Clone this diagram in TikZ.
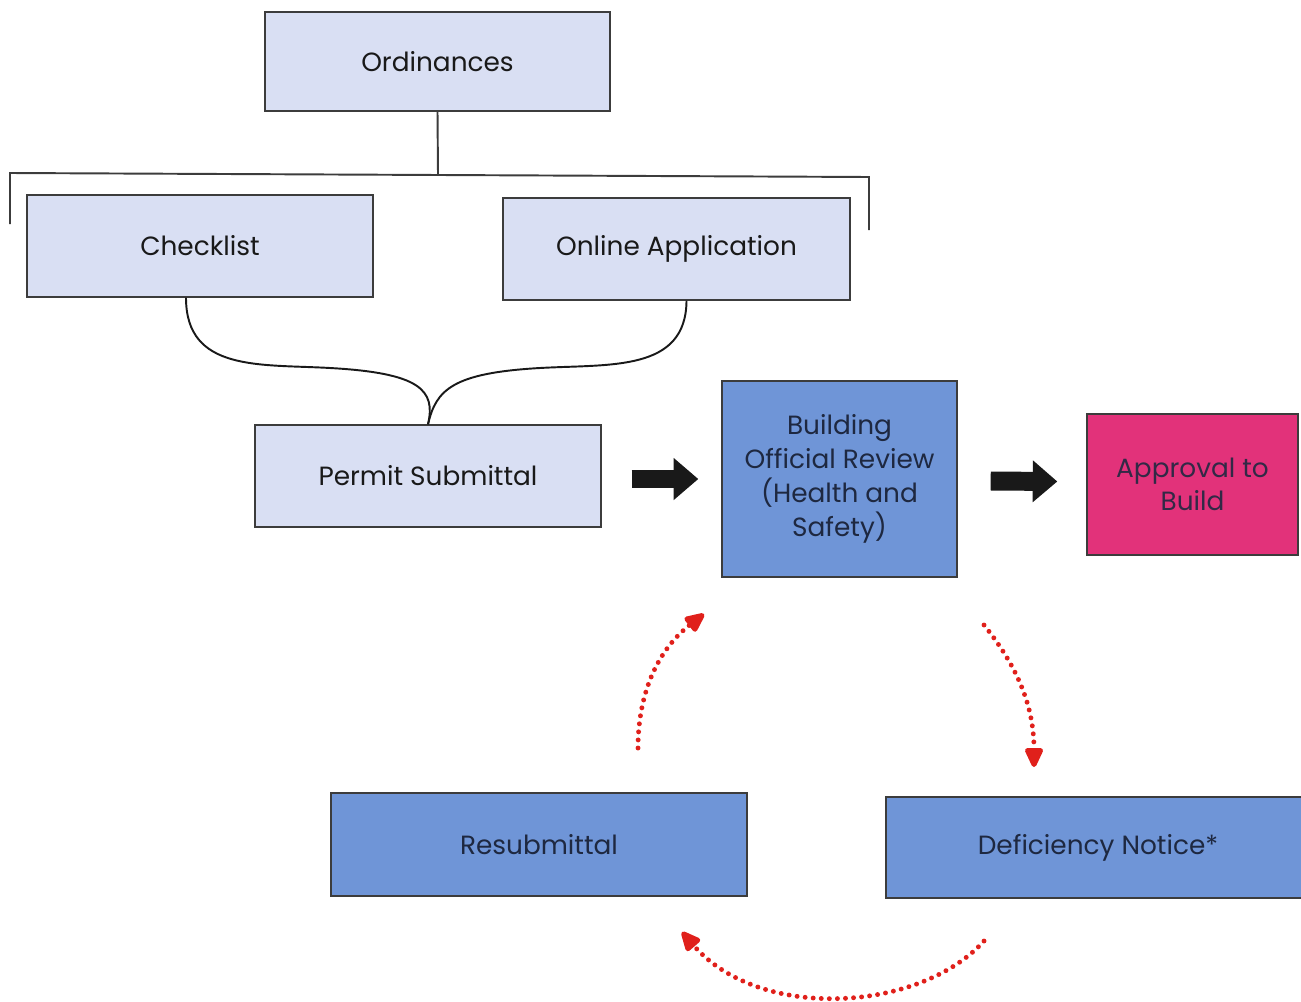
\documentclass[tikz,border=0pt]{standalone}
\usepackage{fontspec}
\setmainfont{Poppins}
\usetikzlibrary{arrows.meta,calc}
\definecolor{lightfill}{HTML}{D9DFF3}
\definecolor{bluefill}{HTML}{6F95D7}
\definecolor{pinkfill}{HTML}{E2327A}
\definecolor{boxline}{HTML}{3C3C3C}
\definecolor{navytext}{HTML}{1E2840}
\definecolor{loopred}{HTML}{E0201B}
\begin{document}
\begin{tikzpicture}[x=0.02cm, y=-0.02cm,
    every node/.style={font=\fontsize{15}{18}\selectfont},
    lightbox/.style={draw=boxline, line width=0.8pt, fill=lightfill, text=black!90, inner sep=0pt},
    bluebox/.style={draw=boxline, line width=0.8pt, fill=bluefill, text=navytext, inner sep=0pt, align=center},
    pinkbox/.style={draw=boxline, line width=0.8pt, fill=pinkfill, text=navytext!90!pinkfill, inner sep=0pt, align=center},
    blockarrow/.style={line width=10.8pt, black!90, -{Triangle[length=14pt, width=23pt]}},
    redloop/.style={loopred, line width=2.8pt, line cap=round, dash pattern=on 0pt off 4.6pt, -{Triangle[length=13pt, width=11pt, round]}}]
    \useasboundingbox (0,0) rectangle (1301,1001);

    % Draw the boxes
    \node[lightbox, minimum width=6.9cm, minimum height=1.98cm] (ordinances) at (437.5,61.5) {Ordinances};
    \node[lightbox, minimum width=6.92cm, minimum height=2.04cm] (checklist) at (200,246) {Checklist};
    \node[lightbox, minimum width=6.94cm, minimum height=2.04cm] (online) at (676.5,249) {Online Application};
    \node[lightbox, minimum width=6.92cm, minimum height=2.04cm] (permit) at (428,476) {Permit Submittal};
    \node[bluebox, minimum width=4.7cm, minimum height=3.92cm, font=\fontsize{15}{19.3}\selectfont] (review) at (839.5,479)
        {Building\\Official Review\\(Health and\\Safety)};
    \node[pinkbox, minimum width=4.22cm, minimum height=2.82cm, font=\fontsize{15}{19}\selectfont] (approval) at (1192.5,484.5)
        {Approval to\\Build};
    \node[bluebox, minimum width=8.32cm, minimum height=2.06cm] (resubmittal) at (539,844.5) {Resubmittal};
    \node[bluebox, minimum width=8.48cm, minimum height=2.02cm] (deficiency) at (1098,847.5) {Deficiency Notice*};

    % Draw the bracket below the ordinances
    \coordinate (bracket) at (438,175);
    \coordinate (leftleg) at (10,224);
    \coordinate (rightleg) at (869,230);
    \draw[boxline, line width=1.1pt] (ordinances.south) -- (bracket);
    \draw[boxline, line width=1.1pt] (leftleg) -- (10,173) -- (869,177) -- (rightleg);

    % Draw the curves joining into the permit submittal
    \draw[black!90, line width=1.1pt] ($(checklist.south)+(-14,0)$) .. controls (186,372) and (260,364) .. (330,368)
        .. controls (420,373) and (436,390) .. (permit.north);
    \draw[black!90, line width=1.1pt] ($(online.south)+(10,0)$) .. controls (686,372) and (610,364) .. (540,368)
        .. controls (452,373) and (436,390) .. (permit.north);

    % Draw the block arrows
    \draw[blockarrow] ($(permit.east)+(30,3)$) -- ($(review.west)+(-23,0)$);
    \draw[blockarrow] ($(review.east)+(33,2)$) -- ($(approval.west)+(-29,-3)$);

    % Draw the dotted loop
    \coordinate (loopa) at (638,748);
    \coordinate (loopb) at (704,614);
    \coordinate (loopc) at (984,625);
    \coordinate (loopd) at (1034,767);
    \coordinate (loope) at (984,941);
    \coordinate (loopf) at (682,932);
    \draw[redloop] (loopa) .. controls (638,690) and (660,648) .. (loopb);
    \draw[redloop] (loopc) .. controls (1012,660) and (1034,700) .. (loopd);
    \draw[redloop] (loope) .. controls (920,1012) and (760,1022) .. (loopf);
\end{tikzpicture}
\end{document}
